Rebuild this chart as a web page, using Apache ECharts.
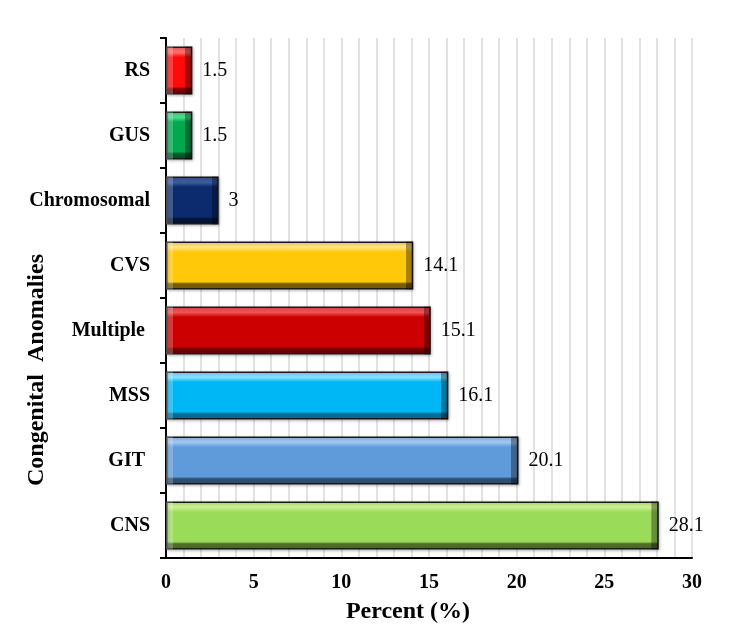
<!DOCTYPE html>
<html>
<head>
<meta charset="utf-8">
<script src="https://cdn.jsdelivr.net/npm/echarts@6/dist/echarts.min.js"></script>
<style>html,body{margin:0;padding:0;background:#fff}#c{width:735px;height:630px}</style>
</head>
<body>
<div id="c"></div>
<script>
var categories = ['CNS', 'GIT ', 'MSS', 'Multiple ', 'CVS', 'Chromosomal', 'GUS', 'RS'];
var values = [28.1, 20.1, 16.1, 15.1, 14.1, 3, 1.5, 1.5];
var xTicks = [0, 5, 10, 15, 20, 25, 30];
var baseColors = ['#9BDB5A', '#5F9BDA', '#00B7F5', '#CC0000', '#FFC808', '#0C2A6E', '#00A84F', '#FF0A0A'];
var lightColors = ['#C8F08C', '#9CC6F2', '#7FDFFF', '#F05050', '#FFE27A', '#3A5A9E', '#4FD88A', '#FF6A6A'];
var darkColors = ['#4E6B2A', '#2E4F75', '#006E96', '#6E0000', '#7A5C00', '#031436', '#00572A', '#7A0000'];

var FONT = '"Liberation Serif", "Times New Roman", serif';
var GRID = { left: 166, right: 43, top: 38, bottom: 72 };
var pxPerUnit = (735 - GRID.left - GRID.right) / (xTicks[xTicks.length - 1] - xTicks[0]);

var dataItems = values.map(function (v, i) {
  return {
    value: v,
    itemStyle: {
      color: new echarts.graphic.LinearGradient(0, 0, 0, 1, [
        { offset: 0, color: lightColors[i] },
        { offset: 0.13, color: lightColors[i] },
        { offset: 0.22, color: baseColors[i] },
        { offset: 0.84, color: baseColors[i] },
        { offset: 0.88, color: darkColors[i] },
        { offset: 1, color: darkColors[i] }
      ]),
      borderColor: '#1a1a1a',
      borderWidth: 1.5
    }
  };
});

var overlayItems = values.map(function (v) {
  var len = v * pxPerUnit;
  var e = Math.min(0.45, 7 / len);
  return {
    value: v,
    itemStyle: {
      color: new echarts.graphic.LinearGradient(0, 0, 1, 0, [
        { offset: 0, color: 'rgba(255,255,255,0.22)' },
        { offset: e, color: 'rgba(255,255,255,0.22)' },
        { offset: e + 0.001, color: 'rgba(255,255,255,0)' },
        { offset: 1 - e - 0.001, color: 'rgba(0,0,0,0)' },
        { offset: 1 - e, color: 'rgba(0,0,0,0.35)' },
        { offset: 1, color: 'rgba(0,0,0,0.35)' }
      ])
    }
  };
});

var chart = echarts.init(document.getElementById('c'), null, { renderer: 'canvas' });
chart.setOption({
  animation: false,
  backgroundColor: '#ffffff',
  grid: { left: GRID.left, right: GRID.right, top: GRID.top, bottom: GRID.bottom, containLabel: false },
  xAxis: {
    type: 'value',
    min: xTicks[0],
    max: xTicks[xTicks.length - 1],
    interval: 1,
    axisLine: { show: true, lineStyle: { color: '#000', width: 2 } },
    axisTick: { show: false },
    axisLabel: {
      margin: 15,
      fontFamily: FONT, fontWeight: 'bold', fontSize: 20, color: '#000',
      formatter: function (v) { return xTicks.indexOf(v) >= 0 ? String(v) : ''; }
    },
    splitLine: { show: true, lineStyle: { color: '#e2e2e2', width: 2 } }
  },
  yAxis: {
    type: 'category',
    data: categories,
    axisLine: { show: true, lineStyle: { color: '#000', width: 2 } },
    axisTick: { show: true, inside: false, length: 6, lineStyle: { color: '#000', width: 2 } },
    axisLabel: { margin: 16, fontFamily: FONT, fontWeight: 'bold', fontSize: 20, color: '#000' },
    splitLine: { show: false }
  },
  graphic: [
    {
      type: 'text', silent: true,
      x: 408, y: 612,
      style: { text: 'Percent (%)', font: 'bold 24px ' + FONT, fill: '#000', align: 'center', verticalAlign: 'middle' }
    },
    {
      type: 'text', silent: true,
      x: 37, y: 370, rotation: Math.PI / 2,
      style: { text: 'Congenital  Anomalies', font: 'bold 24px ' + FONT, fill: '#000', align: 'center', verticalAlign: 'middle' }
    }
  ],
  series: [{
    type: 'bar',
    data: dataItems,
    barWidth: '74%',
    label: {
      show: true,
      position: 'right',
      distance: 10,
      fontFamily: FONT,
      fontSize: 20,
      color: '#000'
    },
    itemStyle: {
      shadowColor: 'rgba(0,0,0,0.25)', shadowBlur: 3, shadowOffsetX: 1, shadowOffsetY: 1
    }
  }, {
    type: 'bar',
    data: overlayItems,
    barWidth: '74%',
    barGap: '-100%',
    silent: true,
    z: 3
  }]
});
</script>
</body>
</html>
